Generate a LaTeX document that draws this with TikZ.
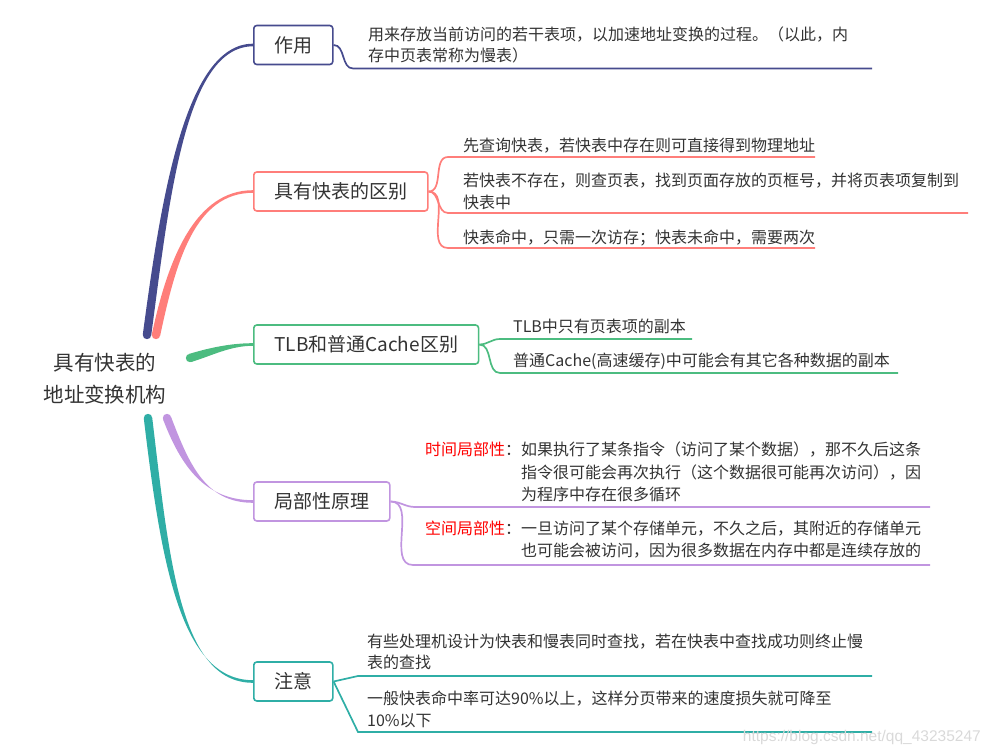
\documentclass[tikz,border=0pt]{standalone}
\usepackage{fontspec}
\newfontfamily\cjk{Noto Sans CJK SC}
\newfontfamily\wmfont{Liberation Sans}
\usetikzlibrary{calc,positioning}
\definecolor{mynavy}{HTML}{464B8E}
\definecolor{mysalmon}{HTML}{FF7E7A}
\definecolor{mygreen}{HTML}{4CBC80}
\definecolor{mypurple}{HTML}{C195E0}
\definecolor{myteal}{HTML}{2FAEA6}
\definecolor{mytext}{HTML}{333333}
\tikzset{
	rootnode/.style={
			align=center,
			inner sep=0pt,
			text=mytext,
			font=\cjk\fontsize{20.5}{32}\selectfont
		},
	topicnode/.style={
			rectangle,
			rounded corners=3pt,
			draw=#1,
			line width=1.6pt,
			fill=white,
			text=mytext,
			font=\cjk\fontsize{19}{22}\selectfont,
			minimum height=39pt,
			inner xsep=20.5pt,
			inner ysep=0pt,
			anchor=west
		},
	leafnode/.style={
			anchor=west,
			inner sep=0pt,
			align=left,
			text=mytext,
			font=\cjk\fontsize{16}{21.5}\selectfont
		},
	leafline/.style={
			draw=#1,
			line width=1.7pt
		}
}
% thick-to-thin branch: colour, start, two controls, end, half width at start, half width at end
\newcommand\taperline[7]{
	\fill[#1] ($#2+#6$) .. controls ($#3+#6$) and ($#4+#7$) .. ($#5+#7$)
		-- ($#5-#7$) .. controls ($#4-#7$) and ($#3-#6$) .. ($#2-#6$) -- cycle;
	\fill[#1] #2 circle (4.2pt);
}
\newcommand\redlabel[1]{\textcolor{red}{#1}：}

\begin{document}
\begin{tikzpicture}[x=1pt,y=-1pt]
\useasboundingbox (0,0) rectangle (989,755);

\node[rootnode] (tRoot) at (105,379) {具有快表的\\地址变换机构};

\node[topicnode=mynavy] (tUse) at (253,45) {作用};
\node[topicnode=mysalmon] (tDiff) at (253,191.5) {具有快表的区别};
\node[topicnode=mygreen] (tTlb) at (253,344.5) {TLB和普通Cache区别};
\node[topicnode=mypurple] (tLocal) at (253,501.5) {局部性原理};
\node[topicnode=myteal] (tNote) at (253,681.5) {注意};

\coordinate (rUse) at (147,335);
\coordinate (rDiff) at (156,335);
\coordinate (rTlb) at (190,358);
\coordinate (rLocal) at (167,418);
\coordinate (rNote) at (148,418);

\taperline{mynavy}{(rUse)}{(165,200)}{(185,45)}{(tUse.west)}{(4.2,0.5)}{(0,1.3)}
\taperline{mysalmon}{(rDiff)}{(172,260)}{(195,191.5)}{(tDiff.west)}{(4.1,0.9)}{(0,1.3)}
\taperline{mygreen}{(rTlb)}{(210,352)}{(230,344.5)}{(tTlb.west)}{(1.2,4)}{(0,1.3)}
\taperline{mypurple}{(rLocal)}{(185,465)}{(205,501.5)}{(tLocal.west)}{(3.9,-1.5)}{(0,1.3)}
\taperline{myteal}{(rNote)}{(165,560)}{(180,681.5)}{(tNote.west)}{(4.2,-0.5)}{(0,1.3)}

% leaves
\node[leafnode] (lUse) at (368,45) {用来存放当前访问的若干表项，以加速地址变换的过程。（以此，内\\存中页表常称为慢表）};

\node[leafnode] (lDiffA) at (463,146) {先查询快表，若快表中存在则可直接得到物理地址};
\node[leafnode] (lDiffB) at (463,191.5) {若快表不存在，则查页表，找到页面存放的页框号，并将页表项复制到\\快表中};
\node[leafnode] (lDiffC) at (463,238) {快表命中，只需一次访存；快表未命中，需要两次};

\node[leafnode] (lTlbA) at (513,326) {TLB中只有页表项的副本};
\node[leafnode] (lTlbB) at (513,361) {普通Cache(高速缓存)中可能会有其它各种数据的副本};

\node[leafnode, font=\cjk\fontsize{16}{22.5}\selectfont] (lLocA) at (425,473.5) {%
	\begin{tabular}{@{}l@{}l@{}}
	\redlabel{时间局部性} & 如果执行了某条指令（访问了某个数据），那不久后这条\\
	 & 指令很可能会再次执行（这个数据很可能再次访问），因\\
	 & 为程序中存在很多循环
	\end{tabular}};
\node[leafnode, font=\cjk\fontsize{16}{22.5}\selectfont] (lLocB) at (425,541) {%
	\begin{tabular}{@{}l@{}l@{}}
	\redlabel{空间局部性} & 一旦访问了某个存储单元，不久之后，其附近的存储单元\\
	 & 也可能会被访问，因为很多数据在内存中都是连续存放的
	\end{tabular}};

\node[leafnode] (lNoteA) at (367,652) {有些处理机设计为快表和慢表同时查找，若在快表中查找成功则终止慢\\表的查找};
\node[leafnode] (lNoteB) at (367,709.5) {一般快表命中率可达90\%以上，这样分页带来的速度损失就可降至\\10\%以下};

% underlines
\coordinate (uUseA) at (353,68.5);   \coordinate (vUseA) at (872,68.5);
\coordinate (uDiffA) at (448,157);   \coordinate (vDiffA) at (815,157);
\coordinate (uDiffB) at (448,213);   \coordinate (vDiffB) at (968,213);
\coordinate (uDiffC) at (448,248);   \coordinate (vDiffC) at (815,248);
\coordinate (uTlbA) at (500,339);    \coordinate (vTlbA) at (692,339);
\coordinate (uTlbB) at (500,373);    \coordinate (vTlbB) at (898,373);
\coordinate (uLocA) at (415,507);    \coordinate (vLocA) at (930,507);
\coordinate (uLocB) at (413,565);    \coordinate (vLocB) at (930,565);
\coordinate (uNoteA) at (358,676);   \coordinate (vNoteA) at (872,676);
\coordinate (uNoteB) at (358,732);   \coordinate (vNoteB) at (872,732);

\draw[leafline=mynavy] (tUse.east) to[out=0,in=180] (uUseA) -- (vUseA);
\draw[leafline=mysalmon] (tDiff.east) to[out=0,in=180] (uDiffA) -- (vDiffA);
\draw[leafline=mysalmon] (tDiff.east) to[out=0,in=180] (uDiffB) -- (vDiffB);
\draw[leafline=mysalmon] (tDiff.east) to[out=0,in=180] (uDiffC) -- (vDiffC);
\draw[leafline=mygreen] (tTlb.east) to[out=0,in=180] (uTlbA) -- (vTlbA);
\draw[leafline=mygreen] (tTlb.east) to[out=0,in=180] (uTlbB) -- (vTlbB);
\draw[leafline=mypurple] (tLocal.east) to[out=0,in=180] (uLocA) -- (vLocA);
\draw[leafline=mypurple] (tLocal.east) to[out=0,in=180] (uLocB) -- (vLocB);
\draw[leafline=myteal] (tNote.east) -- (uNoteA) -- (vNoteA);
\draw[leafline=myteal] (tNote.east) -- (uNoteB) -- (vNoteB);

\node[anchor=east, inner sep=0pt, text=gray!30, font=\wmfont\fontsize{15.5}{18}\selectfont] (tMark) at (981,737) {https://blog.csdn.net/qq\_43235247};
\end{tikzpicture}
\end{document}
